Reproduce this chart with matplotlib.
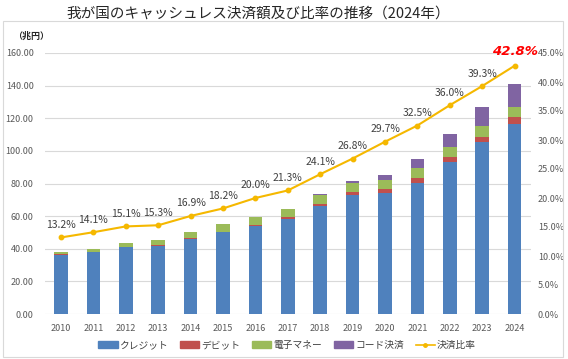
import matplotlib
matplotlib.use("Agg")
import matplotlib.pyplot as plt
import numpy as np
from matplotlib.patches import Rectangle
from matplotlib.lines import Line2D

plt.rcParams['font.family'] = ['Noto Sans CJK JP', 'DejaVu Sans']

years = ['2010', '2011', '2012', '2013', '2014', '2015', '2016', '2017',
         '2018', '2019', '2020', '2021', '2022', '2023', '2024']
credit = [36.2, 37.8, 40.9, 41.7, 46.0, 50.1, 54.0, 58.5, 66.5, 73.0, 74.3, 80.6, 93.4, 105.7, 116.6]
debit = [0.4, 0.4, 0.4, 0.4, 0.4, 0.4, 0.7, 0.8, 1.1, 1.5, 2.2, 3.0, 3.1, 3.1, 4.1]
emoney = [1.6, 1.9, 2.4, 3.3, 4.1, 4.5, 5.0, 5.1, 5.6, 6.1, 5.8, 5.8, 6.1, 6.5, 6.5]
code = [0.0, 0.0, 0.0, 0.0, 0.0, 0.0, 0.0, 0.0, 0.2, 1.0, 3.2, 5.7, 7.8, 11.3, 13.8]
ratio = [13.2, 14.1, 15.1, 15.3, 16.9, 18.2, 20.0, 21.3, 24.1, 26.8, 29.7, 32.5, 36.0, 39.3, 42.8]
left_ticks = [0, 20, 40, 60, 80, 100, 120, 140, 160]
right_ticks = [0, 5, 10, 15, 20, 25, 30, 35, 40, 45]
series_names = ['クレジット', 'デビット', '電子マネー', 'コード決済']
line_name = '決済比率'

colors = ['#4F81BD', '#C0504D', '#9BBB59', '#8064A2']
line_color = '#F5B800'
tick_color = '#595959'
grid_color = '#D9D9D9'

fig = plt.figure(figsize=(5.68, 3.59), dpi=100)
fig.patches.append(Rectangle((3/568, 2/359), 560/568, 336/359, transform=fig.transFigure,
                             fill=False, edgecolor='#D9D9D9', linewidth=0.8))

ax = fig.add_axes([44.8/568, 1 - 314/359, 486/568, 261/359])
x = np.arange(len(years))
bottom = np.zeros(len(years))
for vals, c, name in zip([credit, debit, emoney, code], colors, series_names):
    ax.bar(x, vals, width=0.42, bottom=bottom, color=c, label=name, zorder=2)
    bottom += np.array(vals)

ax.set_xlim(-0.5, len(years) - 0.5)
ax.set_ylim(0, 160)
ax.set_yticks(left_ticks)
ax.set_yticklabels([f'{v:.2f}' for v in left_ticks])
ax.set_xticks(x)
ax.set_xticklabels(years)
ax.tick_params(axis='both', length=0, labelsize=6.5, colors=tick_color)
ax.tick_params(axis='y', pad=8)
ax.tick_params(axis='x', pad=7)
ax.grid(axis='y', color=grid_color, linewidth=0.8, zorder=0)
for s in ax.spines.values():
    s.set_visible(False)

ax2 = ax.twinx()
ax2.set_ylim(0, 45)
ax2.set_yticks(right_ticks)
ax2.set_yticklabels([f'{v:.1f}%' for v in right_ticks])
ax2.tick_params(axis='y', length=0, labelsize=6.5, colors=tick_color, pad=5)
for s in ax2.spines.values():
    s.set_visible(False)
ax2.plot(x, ratio, color=line_color, linewidth=1.5, marker='o', markersize=3.2, zorder=3)
for i, r in enumerate(ratio):
    if i == len(ratio) - 1:
        ax2.annotate(f'{r:.1f}%', (x[i], r), xytext=(0, 10), textcoords='offset points',
                     ha='center', va='center', fontsize=9.5, color='#FF0000',
                     fontweight='bold', style='italic', family=['DejaVu Sans'])
    else:
        ax2.annotate(f'{r:.1f}%', (x[i], r), xytext=(0, 9), textcoords='offset points',
                     ha='center', va='center', fontsize=7.5, color='#404040')

fig.text(258/568, 1 - 14/359, '我が国のキャッシュレス決済額及び比率の推移（2024年）',
         ha='center', va='center', fontsize=10.5, color='#262626')
fig.text(13/568, 1 - 36/359, '（兆円）', ha='left', va='center', fontsize=6.5,
         fontweight='bold', color='#262626')

leg_handles = [Rectangle((0, 0), 1, 1, color=c) for c in colors]
leg_handles.append(Line2D([0], [0], color=line_color, marker='o', markersize=2.5, linewidth=1.2))
fig.legend(leg_handles, series_names + [line_name], loc='center', bbox_to_anchor=(287/568, 1 - 345/359),
           ncol=5, frameon=False, fontsize=7, handlelength=2.0, handleheight=0.6,
           columnspacing=1.2, handletextpad=0.2, labelcolor='#404040')

fig.savefig('out.png', dpi=100)
